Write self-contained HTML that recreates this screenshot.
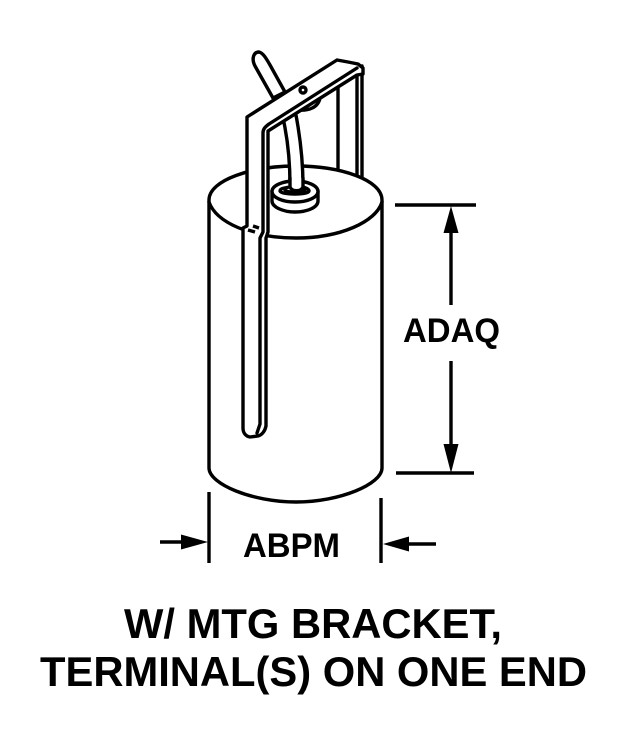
<!DOCTYPE html>
<html><head><meta charset="utf-8"><style>
html,body{margin:0;padding:0;background:#fff}
svg{display:block}
text{font-family:"Liberation Sans",sans-serif;font-weight:bold;fill:#000}
.l{fill:none;stroke:#000;stroke-width:3.4;stroke-linejoin:round;stroke-linecap:round}
.f{fill:#fff;stroke:#000;stroke-width:3.4;stroke-linejoin:round;stroke-linecap:round}
</style></head><body>
<svg width="630" height="750" viewBox="0 0 630 750" xmlns="http://www.w3.org/2000/svg">
<!-- back of bracket -->
<path class="f" d="M338 83V175M357 70V178M362 66V180"/>
<!-- cylinder -->
<path class="f" d="M209 200C209 180 252 166 296 166C341 166 382 180 382 200V468C382 484 340 502 296 502C252 502 209 484 209 468Z"/>
<path class="l" d="M209 202C216 222 250 238 296 238C340 238 376 222 382 202"/>
<!-- wire -->
<path class="f" d="M273 98L255 66C251 58 254 52 259 52C263 53 266 58 270 65L285 92Z"/>
<path class="f" stroke-linecap="butt" d="M283 118C288 140 290 165 290 186C292 193 301 193 303 186C303 160 300 135 295 110Z"/>
<!-- grommet -->
<path class="f" d="M272 191V201C272 207 283 212 295 212C308 212 318 207 318 201V191Z"/>
<ellipse class="f" cx="295" cy="191.500" rx="23" ry="10.500"/>
<path class="l" d="M290 187C283 188 280 189 280 191C281 195 309 195 309 191C309 189 306 188 303 187"/>
<path class="l" d="M285 190C288 193 302 193 305 190"/>
<path class="f" stroke-linecap="butt" d="M290 178V187C292 192 301 192 303 187V178"/>
<path class="f" d="M298 110C308 111 318 108 320 98L321 95L300 108Z"/>
<!-- bracket -->
<path class="f" d="M247 117L337 60L348 62L358 64L363 68V74L357 75L268 131V232L266 238V426C265 431 262 435 258 436L250 437C245 436 243 432 243 428V228L247 226Z"/>
<path class="l" d="M357 68L269 124C265 127 263 129 263 133V232L260 238V424L257 433"/>
<path class="l" d="M253 226L259 228M248 230L255 232" style="stroke-linecap:butt"/>
<circle class="l" cx="303" cy="90" r="3"/>
<!-- dims -->
<path class="l" stroke-width="3" stroke-linecap="butt" style="stroke-linecap:butt" d="M395 205H476M396 473H474M451 225V305M451 361V450M209 492V563M381 498V563M160 542H190M436 544H402"/>
<path d="M451 206L443.500 233H458.500ZM451 473L443.500 444H458.500ZM208 542L181 534.500V549.500ZM383 544L409 536.500V551.500Z"/>
<text x="451.500" y="342" text-anchor="middle" font-size="34" textLength="97" lengthAdjust="spacingAndGlyphs">ADAQ</text>
<text x="291.500" y="557" text-anchor="middle" font-size="34" textLength="97" lengthAdjust="spacingAndGlyphs">ABPM</text>
<text x="313" y="638" text-anchor="middle" font-size="42" textLength="378" lengthAdjust="spacingAndGlyphs">W/ MTG BRACKET,</text>
<text x="313.500" y="686" text-anchor="middle" font-size="42" textLength="547" lengthAdjust="spacingAndGlyphs">TERMINAL(S) ON ONE END</text>
</svg>
</body></html>
